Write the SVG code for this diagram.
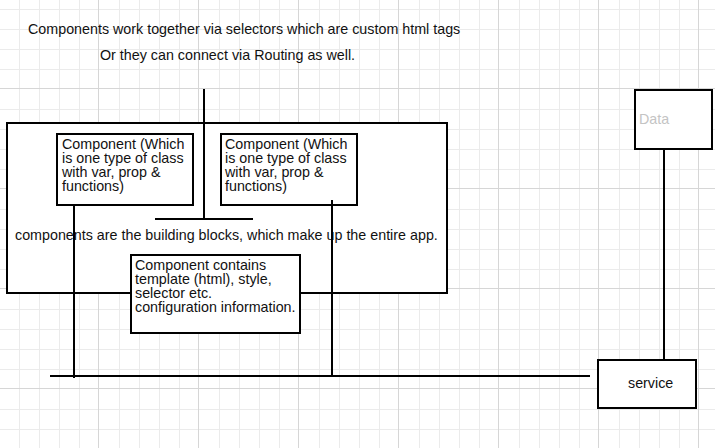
<svg xmlns="http://www.w3.org/2000/svg" width="715" height="448" viewBox="0 0 715 448">
  <defs>
    <pattern id="grid" patternUnits="userSpaceOnUse" x="0" y="0" width="100" height="100">
      <path d="M19.5 0V100M39.5 0V100M59.5 0V100M79.5 0V100M0 9.5H100M0 29.5H100M0 49.5H100M0 69.5H100" stroke="#ebebeb" stroke-width="1" fill="none"/>
      <path d="M98.5 0V100M0 88.5H100" stroke="#d6d6d6" stroke-width="1" fill="none"/>
    </pattern>
  </defs>
  <style>
    .box { fill: #ffffff; stroke: #000000; stroke-width: 2; }
    .t { font-family: "Liberation Sans", Arial, sans-serif; font-size: 14.3px; fill: #111111; }
    .conn { stroke: #000000; stroke-width: 2; fill: none; }
  </style>
  <rect x="0" y="0" width="715" height="448" fill="#ffffff"/>
  <rect x="0" y="0" width="715" height="448" fill="url(#grid)"/>

  <g id="title">
    <text class="t" x="28" y="34">Components work together via selectors which are custom html tags</text>
    <text class="t" x="100" y="60">Or they can connect via Routing as well.</text>
  </g>

  <g id="app">
    <rect class="box" x="7" y="123" width="440" height="170"/>
    <text class="t" x="15" y="240">components are the building blocks, which make up the entire app.</text>
  </g>

  <g id="component1">
    <rect class="box" x="57" y="134" width="136" height="71"/>
    <text class="t" x="62" y="149"><tspan x="62" y="149">Component (Which</tspan><tspan x="62" y="163">is one type of class</tspan><tspan x="62" y="177">with var, prop &amp;</tspan><tspan x="62" y="191">functions)</tspan></text>
  </g>

  <g id="component2">
    <rect class="box" x="221" y="134" width="136" height="71"/>
    <text class="t" x="225" y="149"><tspan x="225" y="149">Component (Which</tspan><tspan x="225" y="163">is one type of class</tspan><tspan x="225" y="177">with var, prop &amp;</tspan><tspan x="225" y="191">functions)</tspan></text>
  </g>

  <g id="component3">
    <rect class="box" x="131" y="255" width="169" height="78"/>
    <text class="t" x="135" y="270"><tspan x="135" y="270">Component contains</tspan><tspan x="135" y="284">template (html), style,</tspan><tspan x="135" y="298">selector etc.</tspan><tspan x="135" y="312">configuration information.</tspan></text>
  </g>

  <g id="data">
    <rect class="box" x="635" y="90" width="77" height="59"/>
    <text class="t" x="639" y="124" style="fill:#c4c4c4">Data</text>
  </g>

  <g id="service">
    <rect class="box" x="598" y="360" width="98" height="48"/>
    <text class="t" x="628" y="388">service</text>
  </g>

  <g id="connectors">
    <path class="conn" d="M204 89V219"/>
    <path class="conn" d="M155 219H253"/>
    <path class="conn" d="M74 205V378"/>
    <path class="conn" d="M332 200V376"/>
    <path class="conn" d="M50 376H590"/>
    <path class="conn" d="M664 149V360"/>
  </g>
</svg>
